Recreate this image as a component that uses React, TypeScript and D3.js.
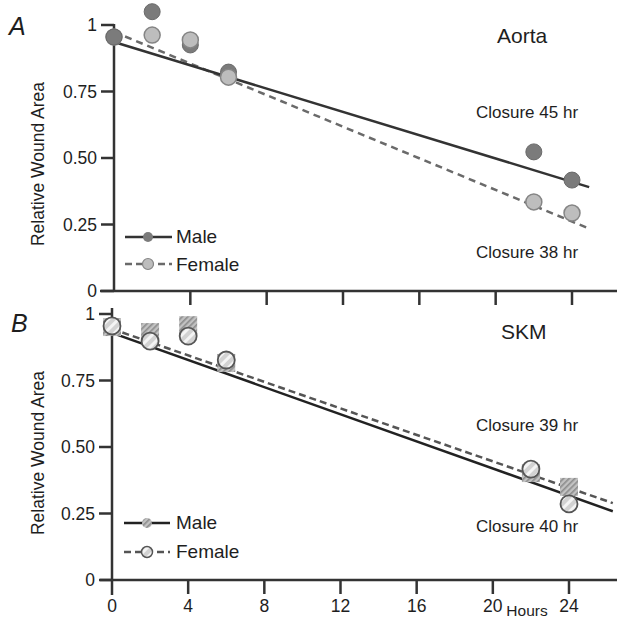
import React from "react";
import * as d3 from "d3";

const hours = [0, 2, 4, 6, 22, 24];
const aortaMale = [0.955, 1.05, 0.925, 0.823, 0.523, 0.417];
const aortaFemale = [0.955, 0.962, 0.944, 0.804, 0.335, 0.293];
const skmMale = [0.951, 0.932, 0.958, 0.816, 0.402, 0.35];
const skmFemale = [0.955, 0.898, 0.917, 0.827, 0.417, 0.286];

// regression fits: [intercept, slope per hour, end hour]
const aortaMaleFit = [0.936, -0.0219, 24.9];
const aortaFemaleFit = [0.974, -0.0297, 24.9];
const skmMaleFit = [0.929, -0.0255, 26.3];
const skmFemaleFit = [0.944, -0.0249, 26.3];

const yTicks = [0, 0.25, 0.5, 0.75, 1];
const yTickLabels = ["0", "0.25", "0.50", "0.75", "1"];
const xTicks = [0, 4, 8, 12, 16, 20, 24];
const xTickLabels = ["0", "4", "8", "12", "16", "20", "24"];

const FONT = "'Liberation Sans', Arial, Helvetica, sans-serif";
const AX = "#333";
const TXT = "#1e1e1e";

function fitLine(fit: number[]) {
  return [
    [0, fit[0]],
    [fit[2], fit[0] + fit[1] * fit[2]],
  ];
}

function Axes({ x, y, yTop, yBottomExt, showXLabels }: any) {
  const [y0] = y.range();
  return (
    <g>
      <line x1={100} x2={617} y1={y(0)} y2={y(0)} stroke={AX} strokeWidth={2.5} />
      <line x1={x(0)} x2={x(0)} y1={yTop} y2={y0 + yBottomExt} stroke={AX} strokeWidth={2.5} />
      {yTicks.map((t, i) => (
        <g key={i}>
          <line x1={x(0) - 13} x2={x(0)} y1={y(t)} y2={y(t)} stroke={AX} strokeWidth={2.5} />
          <text x={x(0) - 17} y={y(t)} dy="0.36em" textAnchor="end" fontSize={17.5} fontFamily={FONT} fill={TXT}>
            {yTickLabels[i]}
          </text>
        </g>
      ))}
      {xTicks.map((t, i) => (
        <g key={i}>
          {t !== 0 && (
            <line x1={x(t)} x2={x(t)} y1={y(0)} y2={y(0) + 14} stroke={AX} strokeWidth={2.5} />
          )}
          {showXLabels && (
            <text x={x(t)} y={y(0) + 32} textAnchor="middle" fontSize={17.5} fontFamily={FONT} fill={TXT}>
              {xTickLabels[i]}
            </text>
          )}
        </g>
      ))}
    </g>
  );
}

export default function App() {
  const xA = d3.scaleLinear().domain([0, 24]).range([114, 572]);
  const yA = d3.scaleLinear().domain([0, 1]).range([291, 25]);
  const xB = d3.scaleLinear().domain([0, 24]).range([112, 569]);
  const yB = d3.scaleLinear().domain([0, 1]).range([580, 314]);

  const lineA = d3.line<number[]>().x((d) => xA(d[0])).y((d) => yA(d[1]));
  const lineB = d3.line<number[]>().x((d) => xB(d[0])).y((d) => yB(d[1]));

  const maleFill = "#7b7b7b";
  const femFill = "#bdbdbd";
  const femStroke = "#858585";

  return (
    <svg
      width={617}
      height={621}
      style={{ position: "absolute", left: 0, top: 0, background: "#fff" }}
    >
      <defs>
        <pattern id="sqHatch" width={4} height={4} patternUnits="userSpaceOnUse" patternTransform="rotate(45)">
          <rect width={4} height={4} fill="#c2c2c2" />
          <rect width={1.6} height={4} fill="#8c8c8c" />
        </pattern>
        <pattern id="ciHatch" width={7} height={7} patternUnits="userSpaceOnUse" patternTransform="rotate(45)">
          <rect width={7} height={7} fill="#d2d2d2" />
          <rect width={3} height={7} fill="#f4f4f4" />
        </pattern>
      </defs>

      {/* Panel A */}
      <text x={9} y={35} fontSize={25} fontStyle="italic" fontFamily={FONT} fill={TXT}>A</text>
      <text x={497} y={43} fontSize={21} fontFamily={FONT} fill={TXT}>Aorta</text>
      <text x={476} y={118} fontSize={17} fontFamily={FONT} fill={TXT}>Closure 45 hr</text>
      <text x={476} y={258} fontSize={17} fontFamily={FONT} fill={TXT}>Closure 38 hr</text>
      <text transform="translate(44,164) rotate(-90)" textAnchor="middle" fontSize={17.5} fontFamily={FONT} fill={TXT}>
        Relative Wound Area
      </text>
      <Axes x={xA} y={yA} yTop={24} yBottomExt={0} showXLabels={false} />
      <path d={lineA(fitLine(aortaFemaleFit) as any) || ""} fill="none" stroke="#6a6a6a" strokeWidth={2.5} strokeDasharray="7,5" />
      <path d={lineA(fitLine(aortaMaleFit) as any) || ""} fill="none" stroke="#333" strokeWidth={2.5} />
      {hours.map((h, i) =>
        i === 0 ? null : (
          <circle key={"am" + i} cx={xA(h)} cy={yA(aortaMale[i])} r={8} fill={maleFill} stroke="#6a6a6a" strokeWidth={1} />
        )
      )}
      {hours.map((h, i) => (
        <circle key={"af" + i} cx={xA(h)} cy={yA(aortaFemale[i])} r={8} fill={femFill} stroke={femStroke} strokeWidth={1.5} />
      ))}
      <circle cx={xA(hours[0])} cy={yA(aortaMale[0])} r={8} fill={maleFill} stroke="#6a6a6a" strokeWidth={1} />
      {/* legend A */}
      <line x1={125} x2={172} y1={237} y2={237} stroke="#333" strokeWidth={2.5} />
      <circle cx={148} cy={237} r={5} fill={maleFill} />
      <text x={176} y={243} fontSize={19} fontFamily={FONT} fill={TXT}>Male</text>
      <line x1={125} x2={172} y1={264} y2={264} stroke="#6a6a6a" strokeWidth={2.5} strokeDasharray="7,4" />
      <circle cx={148} cy={264} r={5.5} fill={femFill} stroke={femStroke} strokeWidth={1.2} />
      <text x={176} y={271} fontSize={19} fontFamily={FONT} fill={TXT}>Female</text>

      {/* Panel B */}
      <text x={11} y={332} fontSize={25} fontStyle="italic" fontFamily={FONT} fill={TXT}>B</text>
      <text x={501} y={339} fontSize={21} fontFamily={FONT} fill={TXT}>SKM</text>
      <text x={476} y={431} fontSize={17} fontFamily={FONT} fill={TXT}>Closure 39 hr</text>
      <text x={476} y={532} fontSize={17} fontFamily={FONT} fill={TXT}>Closure 40 hr</text>
      <text transform="translate(44,453) rotate(-90)" textAnchor="middle" fontSize={17.5} fontFamily={FONT} fill={TXT}>
        Relative Wound Area
      </text>
      <text x={527} y={616} textAnchor="middle" fontSize={15.5} fontFamily={FONT} fill={TXT}>Hours</text>
      <Axes x={xB} y={yB} yTop={308} yBottomExt={15} showXLabels={true} />
      <path d={lineB(fitLine(skmFemaleFit) as any) || ""} fill="none" stroke="#555" strokeWidth={2.5} strokeDasharray="7,4" />
      <path d={lineB(fitLine(skmMaleFit) as any) || ""} fill="none" stroke="#222" strokeWidth={2.5} />
      {hours.map((h, i) => (
        <rect key={"bm" + i} x={xB(h) - 9} y={yB(skmMale[i]) - 9} width={18} height={18} fill="url(#sqHatch)" />
      ))}
      {hours.map((h, i) => (
        <circle key={"bf" + i} cx={xB(h)} cy={yB(skmFemale[i])} r={8.5} fill="url(#ciHatch)" stroke="#555" strokeWidth={1.8} />
      ))}
      {/* legend B */}
      <line x1={124} x2={170} y1={523} y2={523} stroke="#222" strokeWidth={2.5} />
      <circle cx={147} cy={523} r={5} fill="url(#sqHatch)" />
      <text x={176} y={529} fontSize={19} fontFamily={FONT} fill={TXT}>Male</text>
      <line x1={124} x2={170} y1={552} y2={552} stroke="#555" strokeWidth={2.5} strokeDasharray="7,4" />
      <circle cx={147} cy={552} r={5.5} fill="url(#ciHatch)" stroke="#555" strokeWidth={1.5} />
      <text x={176} y={558} fontSize={19} fontFamily={FONT} fill={TXT}>Female</text>
    </svg>
  );
}
